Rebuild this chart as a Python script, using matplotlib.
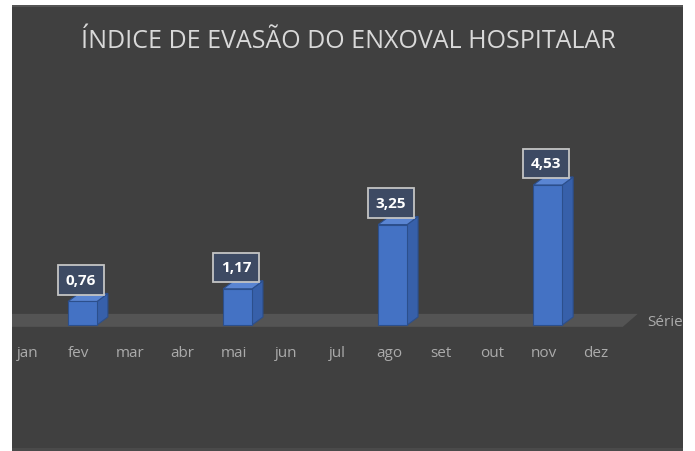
import matplotlib
matplotlib.use("Agg")
import matplotlib.pyplot as plt
from matplotlib.patches import Polygon, Rectangle

plt.rcParams['font.family'] = ['Open Sans', 'DejaVu Sans']

title = "ÍNDICE DE EVASÃO DO ENXOVAL HOSPITALAR"
months = ["jan", "fev", "mar", "abr", "mai", "jun", "jul", "ago", "set", "out", "nov", "dez"]
values = [None, 0.76, None, None, 1.17, None, None, 3.25, None, None, 4.53, None]
labels = ["", "0,76", "", "", "1,17", "", "", "3,25", "", "", "4,53", ""]
series_name = "Série1"

BG = "#404040"
FLOOR = "#545454"
FRONT = "#4472c4"
SIDE = "#3760aa"
TOP = "#5a85d2"
EDGE = "#2c4f8c"
TXT = "#ababab"

W, H = 695, 452
fig = plt.figure(figsize=(W / 100, H / 100), dpi=100, facecolor="white")
# dark panel
fig.patches.append(Rectangle((12 / W, 0), 671 / W, 446 / H, transform=fig.transFigure,
                             facecolor=BG, edgecolor="none", zorder=0))
fig.patches.append(Rectangle((12 / W, 444 / H), 671 / W, 2 / H, transform=fig.transFigure,
                             facecolor="#555555", edgecolor="none", zorder=0))
fig.patches.append(Rectangle((12 / W, 0), 671 / W, 3 / H, transform=fig.transFigure,
                             facecolor="#4a4a4a", edgecolor="none", zorder=0))

ax = fig.add_axes([12 / W, 0, 671 / W, 444 / H])
ax.set_zorder(2)
ax.set_facecolor("none")
ax.set_xlim(-0.364, 12.615)
ax.set_ylim(-4.078, 10.29)
ax.axis("off")

# depth offsets
fdx, fdy = 0.29, 0.42
bdx, bdy = 0.21, 0.26
bw = 0.56

# floor
floor = Polygon([(-1.0, -0.06), (11.45, -0.06), (11.45 + fdx, -0.06 + fdy), (-1.0 + fdx, -0.06 + fdy)],
                closed=True, facecolor=FLOOR, edgecolor="none", zorder=1)
ax.add_patch(floor)

for i, v in enumerate(values):
    if v is None:
        continue
    x0, x1 = i - bw / 2, i + bw / 2
    side = Polygon([(x1, 0), (x1 + bdx, bdy), (x1 + bdx, v + bdy), (x1, v)], closed=True,
                   facecolor=SIDE, edgecolor=EDGE, lw=0.8, zorder=3)
    top = Polygon([(x0, v), (x1, v), (x1 + bdx, v + bdy), (x0 + bdx, v + bdy)], closed=True,
                  facecolor=TOP, edgecolor=EDGE, lw=0.8, zorder=3)
    ax.add_patch(side)
    ax.add_patch(top)
    ax.bar(i, v, width=bw, bottom=0, color=FRONT, edgecolor=EDGE, lw=0.8, zorder=4)
    ax.text(i - 0.03, v + 0.70, labels[i], ha="center", va="center", color="white",
            fontsize=11, fontweight="bold", zorder=6,
            bbox=dict(boxstyle="square,pad=0.5", facecolor="#3d4a63", edgecolor="#c4c4c4", lw=1.3))

for i, m in enumerate(months):
    ax.text(i - 0.07, -0.90, m, ha="center", va="center", color=TXT, fontsize=11)

ax.text(11.92, 0.1, series_name, ha="left", va="center", color=TXT, fontsize=11, clip_on=True)

fig.text(348 / W, 1 - 41.5 / H, title, ha="center", va="center", color="#d9d9d9", fontsize=18)

fig.savefig("out.png", dpi=100, facecolor="white")
